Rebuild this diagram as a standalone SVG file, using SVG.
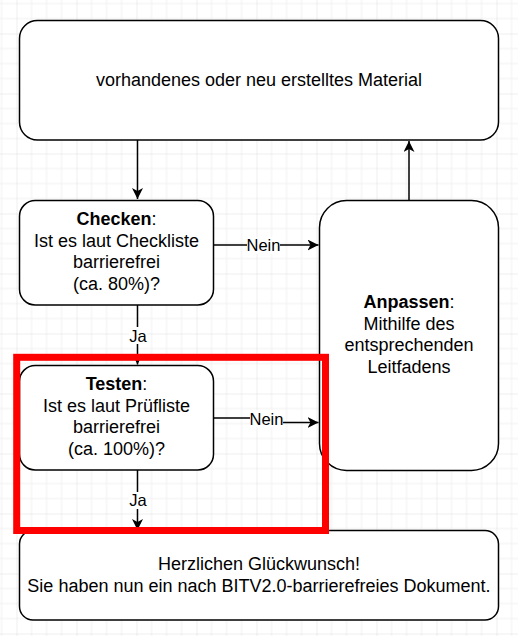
<svg xmlns="http://www.w3.org/2000/svg" width="518" height="636" viewBox="0 0 518 636">
  <style>
    .node { fill: #ffffff; stroke: #000000; stroke-width: 1.5; }
    .t { font-family: "Liberation Sans", Arial, Helvetica, sans-serif; font-size: 18px; fill: #000000; text-anchor: middle; }
    .lbl { font-family: "Liberation Sans", Arial, Helvetica, sans-serif; font-size: 16.5px; fill: #000000; text-anchor: middle; }
    .b { font-weight: bold; }
    .edge { fill: none; stroke: #000000; stroke-width: 1.5; }
    .lblbg { fill: #ffffff; }
  </style>
  <defs>
    <pattern id="grid" x="16.5" y="33.5" width="60" height="60" patternUnits="userSpaceOnUse">
      <path d="M15,0 V60 M30,0 V60 M45,0 V60 M0,15 H60 M0,30 H60 M0,45 H60" stroke="#f0f0f0" stroke-width="1" fill="none"/>
      <path d="M0,0 V60 M0,0 H60" stroke="#dddddd" stroke-width="1" fill="none"/>
    </pattern>
    <marker id="arr" viewBox="0 0 11 11" refX="11" refY="5.5" markerWidth="11" markerHeight="11" markerUnits="userSpaceOnUse" orient="auto">
      <path d="M0,0 L11,5.5 L0,11 L3,5.5 Z" fill="#000000"/>
    </marker>
  </defs>
  <rect x="0" y="0" width="518" height="636" fill="#ffffff"/>
  <rect x="0" y="0" width="518" height="636" fill="url(#grid)"/>

  <g id="connectors">
    <path class="edge" d="M137.5,140 V199" marker-end="url(#arr)"/>
    <path class="edge" d="M214,245 H318.5" marker-end="url(#arr)"/>
    <rect class="lblbg" x="247" y="237" width="33" height="17"/>
    <text class="lbl" x="263.5" y="251">Nein</text>
    <path class="edge" d="M137.5,305 V364.5" marker-end="url(#arr)"/>
    <rect class="lblbg" x="129" y="327" width="18" height="17"/>
    <text class="lbl" x="138" y="341.5">Ja</text>
    <path class="edge" d="M214,418 H266 V422.5 H318.5" marker-end="url(#arr)"/>
    <rect class="lblbg" x="250" y="410" width="33" height="17"/>
    <text class="lbl" x="266.5" y="425">Nein</text>
    <path class="edge" d="M137.5,470 V530" marker-end="url(#arr)"/>
    <rect class="lblbg" x="129" y="492" width="18" height="17"/>
    <text class="lbl" x="138" y="506">Ja</text>
    <path class="edge" d="M409,200 V141" marker-end="url(#arr)"/>
  </g>

  <g id="material">
    <rect class="node" x="19.5" y="20.5" width="479" height="119.5" rx="18" ry="18"/>
    <text class="t" x="259" y="86">vorhandenes oder neu erstelltes Material</text>
  </g>

  <g id="checken">
    <rect class="node" x="19.5" y="200.5" width="194" height="104.5" rx="15.75" ry="15.75"/>
    <text class="t" x="116.5" y="225"><tspan class="b">Checken</tspan>:</text>
    <text class="t" x="116.5" y="246.6">Ist es laut Checkliste</text>
    <text class="t" x="116.5" y="268.2">barrierefrei</text>
    <text class="t" x="116.5" y="289.8">(ca. 80%)?</text>
  </g>

  <g id="testen">
    <rect class="node" x="19.5" y="365.5" width="194" height="104.5" rx="15.75" ry="15.75"/>
    <text class="t" x="116.5" y="390"><tspan class="b">Testen</tspan>:</text>
    <text class="t" x="116.5" y="411.6">Ist es laut Prüfliste</text>
    <text class="t" x="116.5" y="433.2">barrierefrei</text>
    <text class="t" x="116.5" y="454.8">(ca. 100%)?</text>
  </g>

  <g id="anpassen">
    <rect class="node" x="319.5" y="200.5" width="179" height="270" rx="27" ry="27"/>
    <text class="t" x="409" y="308"><tspan class="b">Anpassen</tspan>:</text>
    <text class="t" x="409" y="329.6">Mithilfe des</text>
    <text class="t" x="409" y="351.2">entsprechenden</text>
    <text class="t" x="409" y="372.8">Leitfadens</text>
  </g>

  <g id="glueckwunsch">
    <rect class="node" x="19.5" y="530.5" width="479" height="89.5" rx="13.5" ry="13.5"/>
    <text class="t" x="259" y="570">Herzlichen Glückwunsch!</text>
    <text class="t" x="259" y="591.6">Sie haben nun ein nach BITV2.0-barrierefreies Dokument.</text>
  </g>

  <g id="highlight">
    <rect x="16.7" y="357.3" width="308.8" height="173.2" fill="none" stroke="#ff0000" stroke-width="7"/>
  </g>
</svg>
